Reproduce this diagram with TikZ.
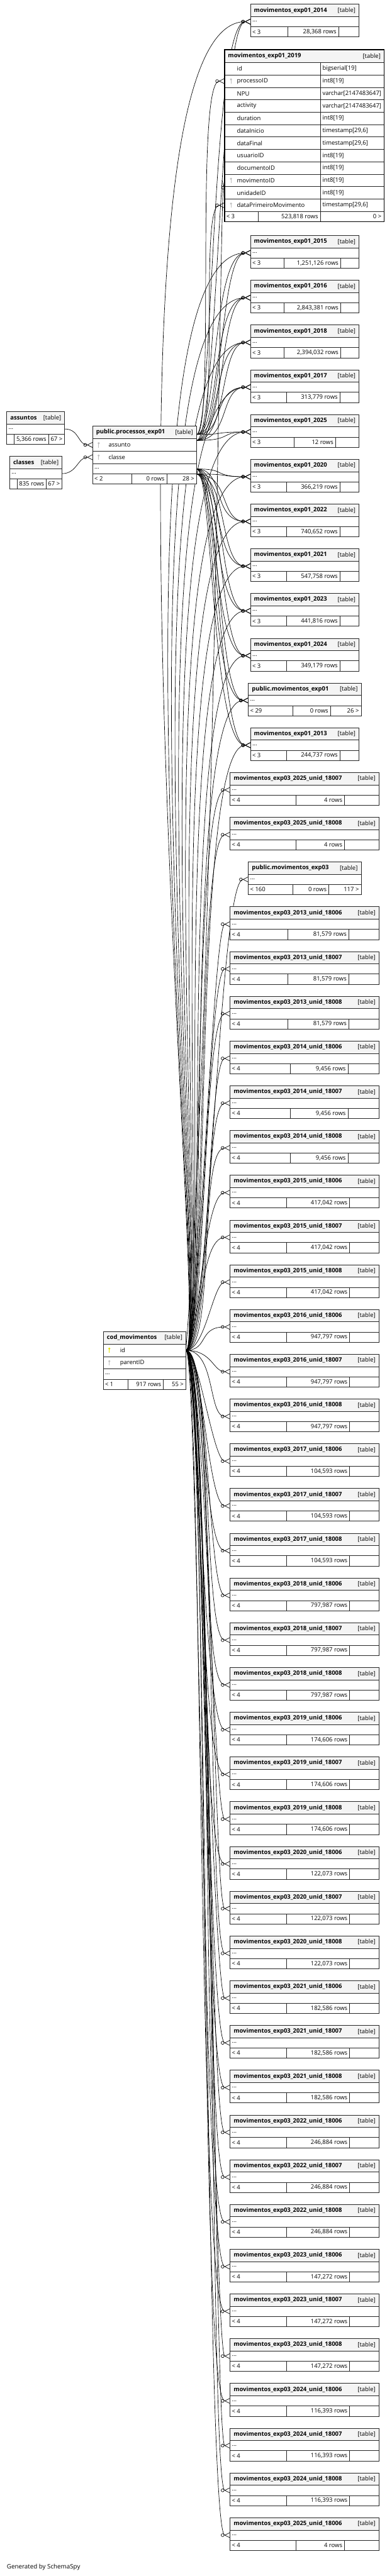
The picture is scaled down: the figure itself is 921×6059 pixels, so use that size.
\documentclass[tikz,border=0pt]{standalone}
\usepackage{fontspec}
\setmainfont{Open Sans}
\usetikzlibrary{positioning, calc, arrows.meta, backgrounds}

\definecolor{headGray}{RGB}{244,244,244}
\definecolor{keyGray}{RGB}{190,190,190}
\definecolor{keyYellow}{RGB}{222,222,0}

\tikzset{
  cell/.style={draw=black!85, fill=white, line width=1pt, inner sep=0pt, outer sep=0pt, anchor=north west},
  tabhead/.style={cell, fill=headGray, minimum height=29},
  tabrow/.style={cell, minimum height=24},
  celltext/.style={inner sep=0pt, font=\fontsize{14}{16}\selectfont},
  titletext/.style={inner sep=0pt, font=\fontsize{14}{16}\selectfont\bfseries},
  fk/.style={line width=1pt, -{Circle[open, length=8pt, width=8pt] Straight Barb[reversed, length=12pt, width=12pt]}},
  keyicon/.pic={
    \fill (0,-4) circle (2.6);
    \fill (-0.8,-4) rectangle (0.8,6);
  },
}

% collapsed table: name, (x,y), width, title, left, rows, right, cut1, cut2
\newcommand{\smalltable}[9]{%
  \node[tabhead, minimum width=#3] (#1) at #2 {};
  \node[titletext, anchor=west] at ([xshift=8]#1.west) {#4};
  \node[celltext, anchor=east] at ([xshift=-8]#1.east) {[table]};
  \node[tabrow, minimum width=#3] (#1-dots) at (#1.south west) {};
  \node[celltext, anchor=west] at ([xshift=4]#1-dots.west) {...};
  \node[tabrow, minimum width=#8] (#1-f1) at (#1-dots.south west) {};
  \node[tabrow, minimum width=#9-#8] (#1-f2) at (#1-f1.north east) {};
  \node[tabrow, minimum width=#3-#9] (#1-f3) at (#1-f2.north east) {};
  \node[celltext, anchor=west] at ([xshift=4]#1-f1.west) {#5};
  \node[celltext, anchor=east] at ([xshift=-5]#1-f2.east) {#6};
  \node[celltext, anchor=east] at ([xshift=-5]#1-f3.east) {#7};
}

\begin{document}
\begin{tikzpicture}[x=1pt, y=-1pt]
  \useasboundingbox (0,0) rectangle (921,6059);
  \begin{scope}[on background layer]
    \fill[white] (0,0) rectangle (921,6059);
  \end{scope}

  % left side
  \smalltable{assuntos}{(16,968)}{136}{assuntos}{}{5,366 rows}{67 >}{17}{98}
  \smalltable{classes}{(23,1073)}{123}{classes}{}{835 rows}{67 >}{17}{86}

  \node[tabhead, minimum width=244, minimum height=30] (proc) at (218,1002) {};
  \node[titletext, anchor=west] at ([xshift=8]proc.west) {public.processos\_exp01};
  \node[celltext, anchor=east] at ([xshift=-8]proc.east) {[table]};
  \node[cell, minimum width=244, minimum height=29] (proc-assunto) at (proc.south west) {};
  \node[cell, minimum width=244, minimum height=29] (proc-classe) at (proc-assunto.south west) {};
  \node[tabrow, minimum width=244] (proc-dots) at (proc-classe.south west) {};
  \node[tabrow, minimum width=91] (proc-f1) at (proc-dots.south west) {};
  \node[tabrow, minimum width=83] (proc-f2) at (proc-f1.north east) {};
  \node[tabrow, minimum width=70] (proc-f3) at (proc-f2.north east) {};
  \pic[keyGray] at ([xshift=14]proc-assunto.west) {keyicon};
  \pic[keyGray] at ([xshift=14]proc-classe.west) {keyicon};
  \node[celltext, anchor=west] at ([xshift=37]proc-assunto.west) {assunto};
  \node[celltext, anchor=west] at ([xshift=37]proc-classe.west) {classe};
  \node[celltext, anchor=west] at ([xshift=4]proc-dots.west) {...};
  \node[celltext, anchor=west] at ([xshift=4]proc-f1.west) {< 2};
  \node[celltext, anchor=east] at ([xshift=-5]proc-f2.east) {0 rows};
  \node[celltext, anchor=east] at ([xshift=-5]proc-f3.east) {28 >};

  \node[tabhead, minimum width=194] (cod) at (243,3132) {};
  \node[titletext, anchor=west] at ([xshift=8]cod.west) {cod\_movimentos};
  \node[celltext, anchor=east] at ([xshift=-8]cod.east) {[table]};
  \node[cell, minimum width=194, minimum height=30] (cod-id) at (cod.south west) {};
  \node[cell, minimum width=194, minimum height=29] (cod-parent) at (cod-id.south west) {};
  \node[tabrow, minimum width=194] (cod-dots) at (cod-parent.south west) {};
  \node[tabrow, minimum width=58] (cod-f1) at (cod-dots.south west) {};
  \node[tabrow, minimum width=83] (cod-f2) at (cod-f1.north east) {};
  \node[tabrow, minimum width=53] (cod-f3) at (cod-f2.north east) {};
  \pic[keyYellow] at ([xshift=14]cod-id.west) {keyicon};
  \pic[keyGray] at ([xshift=14]cod-parent.west) {keyicon};
  \node[celltext, anchor=west] at ([xshift=39]cod-id.west) {id};
  \node[celltext, anchor=west] at ([xshift=39]cod-parent.west) {parentID};
  \node[celltext, anchor=west] at ([xshift=4]cod-dots.west) {...};
  \node[celltext, anchor=west] at ([xshift=4]cod-f1.west) {< 1};
  \node[celltext, anchor=east] at ([xshift=-5]cod-f2.east) {917 rows};
  \node[celltext, anchor=east] at ([xshift=-5]cod-f3.east) {55 >};

  % exp01 tables
  \smalltable{t2014}{(589,10)}{255}{movimentos\_exp01\_2014}{< 3}{28,368 rows}{}{88}{207}

  \node[tabhead, minimum width=375, minimum height=30] (t2019) at (528,117) {};
  \node[titletext, anchor=west] at ([xshift=8]t2019.west) {movimentos\_exp01\_2019};
  \node[celltext, anchor=east] at ([xshift=-8]t2019.east) {[table]};
  \foreach \i/\col/\typ in {1/id/bigserial[19], 2/processoID/int8[19], 3/NPU/varchar[2147483647],
      4/activity/varchar[2147483647], 5/duration/int8[19], 6/dataInicio/{timestamp[29,6]},
      7/dataFinal/{timestamp[29,6]}, 8/usuarioID/int8[19], 9/documentoID/int8[19],
      10/movimentoID/int8[19], 11/unidadeID/int8[19], 12/dataPrimeiroMovimento/{timestamp[29,6]}} {
    \node[cell, minimum width=225, minimum height=29.2] (c2019-\i) at (528,{147+(\i-1)*29.2}) {};
    \node[cell, minimum width=150, minimum height=29.2] (d2019-\i) at (c2019-\i.north east) {};
    \node[celltext, anchor=west] at ([xshift=29]c2019-\i.west) {\col};
    \node[celltext, anchor=west] at ([xshift=5]d2019-\i.west) {\typ};
  }
  \foreach \i in {2,10,12}
    \pic[keyGray] at ([xshift=15]c2019-\i.west) {keyicon};
  \node[tabrow, minimum width=79] (f2019-1) at (528,497.4) {};
  \node[tabrow, minimum width=146] (f2019-2) at (f2019-1.north east) {};
  \node[tabrow, minimum width=150] (f2019-3) at (f2019-2.north east) {};
  \node[celltext, anchor=west] at ([xshift=4]f2019-1.west) {< 3};
  \node[celltext, anchor=east] at ([xshift=-5]f2019-2.east) {523,818 rows};
  \node[celltext, anchor=east] at ([xshift=-6]f2019-3.east) {0 >};
  \draw[line width=2.5pt] (t2019.north west) rectangle (f2019-3.south east);

  \foreach \k/\yr/\rows/\ca/\cb in {0/2015/{1,251,126}/79/212, 1/2016/{2,843,381}/79/212,
      2/2018/{2,394,032}/79/212, 3/2017/{313,779}/84/210, 4/2025/12/103/200,
      5/2020/{366,219}/84/210, 6/2022/{740,652}/84/210, 7/2021/{547,758}/84/210,
      8/2023/{441,816}/84/210, 9/2024/{349,179}/84/210, 11/2013/{244,737}/84/210} {
    \pgfmathsetmacro\ty{554+\k*105.25}
    \smalltable{t\yr}{(589,\ty)}{255}{movimentos\_exp01\_\yr}{< 3}{\rows\ rows}{}{\ca}{\cb}
  }
  \smalltable{pub1}{(584,1606.5)}{265}{public.movimentos\_exp01}{< 29}{0 rows}{26 >}{105}{193}

  % exp03 tables
  \smalltable{m2025-18007}{(541,1817)}{350}{movimentos\_exp03\_2025\_unid\_18007}{< 4}{4 rows}{}{154}{269}
  \smalltable{m2025-18008}{(541,1922.3)}{350}{movimentos\_exp03\_2025\_unid\_18008}{< 4}{4 rows}{}{154}{269}
  \smalltable{pub3}{(584,2027.5)}{265}{public.movimentos\_exp03}{< 160}{0 rows}{117 >}{105}{189}
  \foreach \yr/\rows/\ca/\cb [count=\i from 0] in {2013/{81,579}/136/279, 2014/{9,456}/141/277,
      2015/{417,042}/132/281, 2016/{947,797}/132/281, 2017/{104,593}/132/281,
      2018/{797,987}/132/281, 2019/{174,606}/132/281, 2020/{122,073}/132/281,
      2021/{182,586}/132/281, 2022/{246,884}/132/281, 2023/{147,272}/132/281,
      2024/{116,393}/132/281} {
    \foreach \u [count=\j from 0] in {18006,18007,18008} {
      \pgfmathsetmacro\ty{554+(15+3*\i+\j)*105.25}
      \smalltable{m\yr-\u}{(541,\ty)}{350}{movimentos\_exp03\_\yr\_unid\_\u}{< 4}{\rows\ rows}{}{\ca}{\cb}
    }
  }
  \smalltable{m2025-18006}{(541,5921.8)}{350}{movimentos\_exp03\_2025\_unid\_18006}{< 4}{4 rows}{}{154}{269}

  \node[celltext, anchor=west, font=\fontsize{14.5}{17}\selectfont] (credit) at (16,6038) {Generated by SchemaSpy};

  \begin{scope}[on background layer]
    \draw[fk] (assuntos-dots.east) .. controls +(35,0) and +(-35,0) .. (proc-assunto.west);
    \draw[fk] (classes-dots.east) .. controls +(35,0) and +(-35,0) .. (proc-classe.west);

    % processos_exp01 -> exp01
    \foreach \t/\a in {t2014/38, t2015/50, t2016/56, t2018/62, t2017/68, t2025/74} {
      \draw[fk] ([yshift=-5]proc.east) .. controls +(\a,0) and +(-92,0) .. (\t-dots.west);
      \draw[fk] ([yshift=-19]proc.east) .. controls +(\a+12,0) and +(-74,0) .. (\t-dots.west);
    }
    \draw[fk] ([yshift=-5]proc.east) .. controls +(44,0) and +(-70,0) .. (c2019-2.west);
    \draw[fk] ([yshift=-19]proc.east) .. controls +(56,0) and +(-60,0) .. (c2019-12.west);
    \foreach \t/\a in {t2020/74, t2022/68, t2021/62, t2023/56, t2024/50, pub1/44, t2013/38} {
      \draw[fk] ([yshift=-1]proc-dots.east) .. controls +(\a,0) and +(-92,0) .. (\t-dots.west);
      \draw[fk] ([yshift=-13]proc-dots.east) .. controls +(\a+12,0) and +(-74,0) .. (\t-dots.west);
    }

    % cod_movimentos -> exp01
    \foreach \t/\b in {t2014/400, t2015/360, t2016/340, t2018/320, t2017/300, t2025/280,
        t2020/260, t2022/240, t2021/220, t2023/200, t2024/180, pub1/160, t2013/140} {
      \draw[fk] (cod-id.east) .. controls +(60,0) and +(-\b,0) .. (\t-dots.west);
    }
    \draw[fk] (cod-id.east) .. controls +(70,-900) and +(-12,60) .. (c2019-10.west);

    % cod_movimentos -> exp03
    \draw[fk] (cod-id.east) .. controls +(40,0) and +(-90,0) .. (m2025-18007-dots.west);
    \draw[fk] (cod-id.east) .. controls +(48,0) and +(-80,0) .. (m2025-18008-dots.west);
    \draw[fk] (cod-id.east) .. controls +(56,0) and +(-70,0) .. (pub3-dots.west);
    \foreach \yr [count=\i from 0] in {2013,2014,...,2024} {
      \foreach \u [count=\j from 0] in {18006,18007,18008} {
        \pgfmathtruncatemacro\a{30+mod(3*\i+\j,6)*8}
        \pgfmathtruncatemacro\b{40+mod(\i+\j,4)*12}
        \draw[fk] (cod-id.east) .. controls +(\a,0) and +(-\b,0) .. (m\yr-\u-dots.west);
      }
    }
    \draw[fk] (cod-id.east) .. controls +(50,0) and +(-60,0) .. (m2025-18006-dots.west);
  \end{scope}
\end{tikzpicture}
\end{document}
